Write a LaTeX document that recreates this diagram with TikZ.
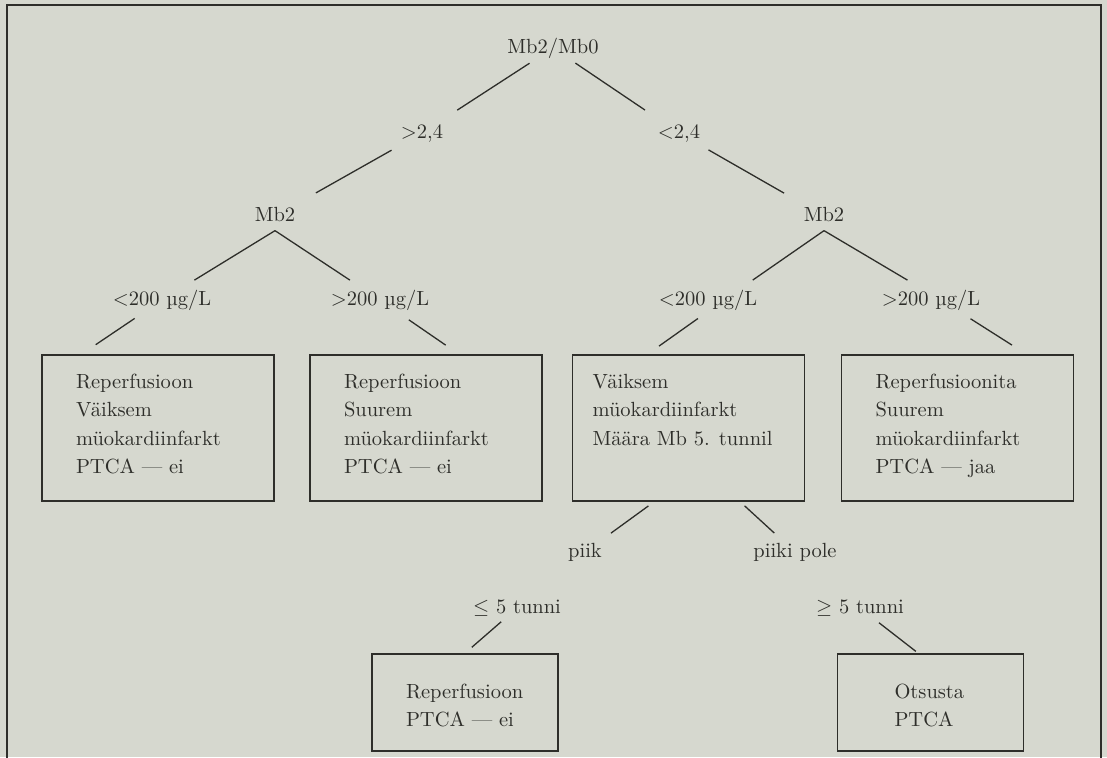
\documentclass[tikz,border=0pt]{standalone}
\usepackage{fontspec}
\setmainfont{lmroman10-regular.otf}
\definecolor{paper}{RGB}{214,216,207}
\definecolor{ink}{RGB}{46,46,42}
\begin{document}
\begin{tikzpicture}[x=1pt,y=-1pt,line width=1.3pt]
\tikzset{txt/.style = {inner sep=0pt, text height=15pt, text depth=4pt, text=ink, font=\fontsize{20.5}{28.5}\selectfont},
  fork/.style = {txt, inner ysep=4.5pt},
  outcome/.style = {draw=ink, line width=1.6pt, inner sep=0pt, minimum width=232pt, text height=33pt, text depth=113pt, text=ink, font=\fontsize{20.5}{28.5}\selectfont},
  final/.style = {outcome, minimum width=186pt, text height=44pt, text depth=53pt},
  edge/.style = {draw=ink}}
\fill[paper] (0,0) rectangle (1107,757);
\useasboundingbox (0,0) rectangle (1107,757);
\draw[ink, line width=1.4pt] (7,760) -- (7,5) -- (1101,5) -- (1101,760);
% tree
\node[txt] (root) at (553,48) {Mb2/Mb0};
\node[txt] (gt) at (422,133) {>2,4};
\node[txt] (lt) at (679,133) {<2,4};
\node[fork] (mbL) at (275,216) {Mb2};
\node[fork] (mbR) at (824,216) {Mb2};
\node[txt] (aL) at (162,300) {<200 µg/L};
\node[txt] (bL) at (380,300) {>200 µg/L};
\node[txt] (aR) at (708,300) {<200 µg/L};
\node[txt] (bR) at (931,300) {>200 µg/L};
% outcomes
\node[outcome] (box1) at (158,428) {\parbox[t]{164pt}{Reperfusioon\\Väiksem\\müokardiinfarkt\\PTCA — ei}};
\node[outcome] (box2) at (426,428) {\parbox[t]{164pt}{Reperfusioon\\Suurem\\müokardiinfarkt\\PTCA — ei}};
\node[outcome] (box3) at (688.5,428) {\parbox[t]{192pt}{Väiksem\\müokardiinfarkt\\Määra Mb 5. tunnil}};
\node[outcome] (box4) at (957.5,428) {\parbox[t]{164pt}{Reperfusioonita\\Suurem\\müokardiinfarkt\\PTCA — jaa}};
\node[txt] (piik) at (585,552) {piik};
\node[txt] (pole) at (795,552) {piiki pole};
\node[txt] (le) at (517,608) {$\leq$ 5 tunni};
\node[txt] (ge) at (860,608) {$\geq$ 5 tunni};
\node[final] (box5) at (465,702.5) {\parbox[t]{118pt}{Reperfusioon\\PTCA — ei}};
\node[final] (box6) at (930.5,702.5) {\parbox[t]{72pt}{Otsusta\\PTCA}};
% connectors
\draw[edge, shorten <=28pt, shorten >=42pt] (root.center) -- (gt.center);
\draw[edge, shorten <=27pt, shorten >=41pt] (root.center) -- (lt.center);
\draw[edge, shorten <=35pt, shorten >=47pt] (gt.center) -- (mbL.center);
\draw[edge, shorten <=34pt, shorten >=46pt] (lt.center) -- (mbR.center);
\draw[edge, shorten >=38pt] (mbL.south) -- (aL.center);
\draw[edge, shorten >=36pt] (mbL.south) -- (bL.center);
\draw[edge, shorten >=35pt] (mbR.south) -- ([xshift=16pt]aR.center);
\draw[edge, shorten >=39pt] (mbR.south) -- ([xshift=10pt]bR.center);
\draw[edge, shorten <=33pt, shorten >=17pt] (aL.center) -- (box1.136);
\draw[edge, shorten <=35pt, shorten >=16pt] (bL.center) -- (box2.66);
\draw[edge, shorten <=32pt, shorten >=14pt] ([xshift=16pt]aR.center) -- (box3.119);
\draw[edge, shorten <=35pt, shorten >=17pt] ([xshift=10pt]bR.center) -- (box4.47);
\draw[edge, shorten <=7pt, shorten >=32pt] (box3.-115) -- (piik.center);
\draw[edge, shorten <=6pt, shorten >=28pt] (box3.-55) -- (pole.center);
\draw[edge, shorten <=21pt, shorten >=9pt] (le.center) -- (box5.north);
\draw[edge, shorten <=24pt, shorten >=3pt] (ge.center) -- (box6.104);
\end{tikzpicture}
\end{document}
